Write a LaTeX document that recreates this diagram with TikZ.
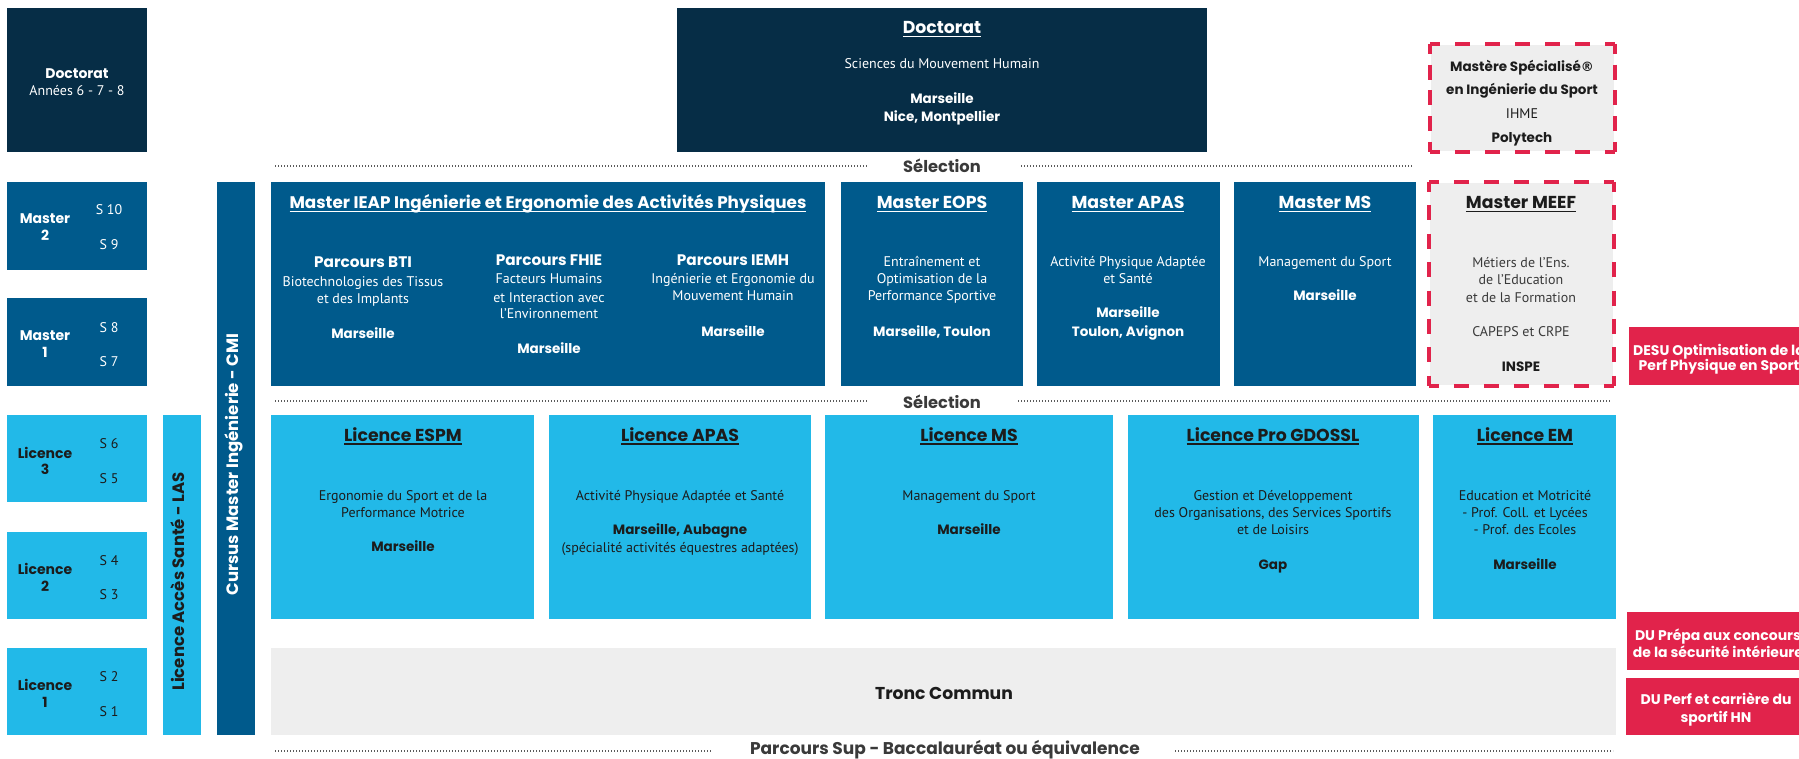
\documentclass[tikz,border=0pt]{standalone}
\usepackage{fontspec}
\setmainfont{PT Sans}
\newfontfamily\pop{Poppins}
\newfontfamily\djv{DejaVu Sans}
\definecolor{navy}{RGB}{6,45,70}
\definecolor{mblue}{RGB}{0,90,140}
\definecolor{lblue}{RGB}{34,185,232}
\definecolor{rred}{RGB}{225,35,75}
\definecolor{lgray}{RGB}{238,238,238}
\definecolor{dtext}{RGB}{28,28,28}
\definecolor{gtext}{RGB}{58,58,58}
\definecolor{dotc}{RGB}{90,90,90}
\newsavebox\ulbox
\newcommand\ul[1]{\sbox\ulbox{#1}\rlap{\rule[-3.5pt]{\wd\ulbox}{1.3pt}}\usebox\ulbox}
\tikzset{
  lbl/.style={inner sep=0pt, outer sep=0pt, anchor=mid, yshift=-3.5pt},
  rg/.style={lbl, font=\fontsize{#1}{17}\selectfont},
  rg/.default=14,
  bd/.style={lbl, font=\pop\bfseries\fontsize{#1}{17}\selectfont},
  bd/.default=13.5,
  wt/.style={text=white},
  dk/.style={text=dtext},
  gy/.style={text=gtext},
  dotline/.style={draw=dotc, line width=1.6pt, dash pattern=on 1pt off 2pt},
  redd/.style={draw=rred, line width=3.5pt},
}
\begin{document}
\begin{tikzpicture}[x=1pt,y=-1pt]
\useasboundingbox (0,0) rectangle (1799,759);
\fill[white] (0,0) rectangle (1799,759);
\clip (0,0) rectangle (1799,759);

% ---------- left column ----------
\fill[navy]  (7,8) rectangle (147,152);
\fill[mblue] (7,182) rectangle (147,270);
\fill[mblue] (7,298) rectangle (147,386);
\fill[lblue] (7,415) rectangle (147,502);
\fill[lblue] (7,532) rectangle (147,619);
\fill[lblue] (7,648) rectangle (147,735);

\node[bd=14,wt] (ld1) at (77,73) {Doctorat};
\node[rg,wt] (ld2) at (77,90) {Années 6 - 7 - 8};

\node[bd=14,wt] (m2a) at (45,218) {Master};
\node[bd=14,wt] (m2b) at (45,235) {2};
\node[rg,wt] (s10) at (109,209) {S 10};
\node[rg,wt] (s9) at (109,244) {S 9};

\node[bd=14,wt] (m1a) at (45,334) {Master};
\node[bd=14,wt] (m1b) at (45,351) {1};
\node[rg,wt] (s8) at (109,326) {S 8};
\node[rg,wt] (s7) at (109,360) {S 7};

\node[bd=14,dk] (l3a) at (45,452) {Licence};
\node[bd=14,dk] (l3b) at (45,468) {3};
\node[rg,dk] (s6) at (109,442) {S 6};
\node[rg,dk] (s5) at (109,477) {S 5};

\node[bd=14,dk] (l2a) at (45,568) {Licence};
\node[bd=14,dk] (l2b) at (45,585) {2};
\node[rg,dk] (s4) at (109,559) {S 4};
\node[rg,dk] (s3) at (109,593) {S 3};

\node[bd=14,dk] (l1a) at (45,684) {Licence};
\node[bd=14,dk] (l1b) at (45,701) {1};
\node[rg,dk] (s2) at (109,675) {S 2};
\node[rg,dk] (s1) at (109,710) {S 1};

% ---------- vertical bars ----------
\fill[lblue] (163,415) rectangle (201,735);
\fill[mblue] (217,182) rectangle (255,735);
\node[bd=16.5,dk,rotate=90,yshift=0pt,xshift=-3pt] (las) at (182,575) {Licence Accès Santé - LAS};
\node[bd=16.5,wt,rotate=90,yshift=0pt,xshift=-3pt] (cmi) at (236,458) {Cursus Master Ingénierie - CMI};

% ---------- doctorat ----------
\fill[navy] (677,8) rectangle (1207,152);
\node[bd=17.3,wt] (doc1) at (942,28) {\ul{Doctorat}};
\node[rg,wt] (doc2) at (942,63) {Sciences du Mouvement Humain};
\node[bd,wt] (doc3) at (942,98) {Marseille};
\node[bd,wt] (doc4) at (942,116) {Nice, Montpellier};

% ---------- Mastere specialise ----------
\fill[lgray] (1431,45) rectangle (1614,151);
\draw[redd, dash pattern=on 15pt off 15pt, dash phase=5pt] (1430,44) -- (1615,44);
\draw[redd, dash pattern=on 15pt off 15pt, dash phase=5pt] (1430,152) -- (1615,152);
\draw[redd, dash pattern=on 15pt off 10.75pt, dash phase=5pt] (1430,44) -- (1430,152);
\draw[redd, dash pattern=on 15pt off 10.75pt, dash phase=5pt] (1615,44) -- (1615,152);
\node[bd,dk] (msp1) at (1522,66) {Mastère Spécialisé{\djv\fontsize{13}{15}\selectfont ®}};
\node[bd,dk] (msp2) at (1522,89) {en Ingénierie du Sport};
\node[rg,dk] (msp3) at (1522,113) {IHME};
\node[bd,dk] (msp4) at (1522,137) {Polytech};

% ---------- selection lines ----------
\draw[dotline] (275,166) -- (867,166);
\draw[dotline] (1021,166) -- (1412,166);
\node[bd=16.3,gy] (sel1) at (942,167) {Sélection};
\draw[dotline] (275,401) -- (867,401);
\draw[dotline] (1018,401) -- (1610,401);
\node[bd=16.3,gy] (sel2) at (942,402) {Sélection};
\draw[dotline] (275,751) -- (712,751);
\draw[dotline] (1175,751) -- (1613,751);
\node[bd=17,gy] (psup) at (945,748.5) {Parcours Sup - Baccalauréat ou équivalence};

% ---------- masters ----------
\fill[mblue] (271,182) rectangle (825,386);
\fill[mblue] (841,182) rectangle (1023,386);
\fill[mblue] (1037,182) rectangle (1220,386);
\fill[mblue] (1234,182) rectangle (1416,386);

\node[bd=16.8,wt] (ieap) at (548,203) {\ul{Master IEAP Ingénierie et Ergonomie des Activités Physiques}};
\node[bd=15.3,wt] (bti1) at (363,262) {Parcours BTI};
\node[rg,wt] (bti2) at (363,281) {Biotechnologies des Tissus};
\node[rg,wt] (bti3) at (363,298) {et des Implants};
\node[bd,wt] (bti4) at (363,332) {Marseille};

\node[bd=15.3,wt] (fh1) at (549,260) {Parcours FHIE};
\node[rg,wt] (fh2) at (549,278) {Facteurs Humains};
\node[rg,wt] (fh3) at (549,296) {et Interaction avec};
\node[rg,wt] (fh4) at (549,313) {l'Environnement};
\node[bd,wt] (fh5) at (549,347) {Marseille};

\node[bd=15.3,wt] (ie1) at (733,260) {Parcours IEMH};
\node[rg,wt] (ie2) at (733,278) {Ingénierie et Ergonomie du};
\node[rg,wt] (ie3) at (733,295) {Mouvement Humain};
\node[bd,wt] (ie4) at (733,330) {Marseille};

\node[bd=17.3,wt] (eo1) at (932,203) {\ul{Master EOPS}};
\node[rg,wt] (eo2) at (932,261) {Entraînement et};
\node[rg,wt] (eo3) at (932,278) {Optimisation de la};
\node[rg,wt] (eo4) at (932,295) {Performance Sportive};
\node[bd,wt] (eo5) at (932,330) {Marseille, Toulon};

\node[bd=17.3,wt] (ap1) at (1128,203) {\ul{Master APAS}};
\node[rg,wt] (ap2) at (1128,261) {Activité Physique Adaptée};
\node[rg,wt] (ap3) at (1128,278) {et Santé};
\node[bd,wt] (ap4) at (1128,312) {Marseille};
\node[bd,wt] (ap5) at (1128,330) {Toulon, Avignon};

\node[bd=17.3,wt] (ms1) at (1325,203) {\ul{Master MS}};
\node[rg,wt] (ms2) at (1325,261) {Management du Sport};
\node[bd,wt] (ms3) at (1325,295) {Marseille};

% ---------- MEEF ----------
\fill[lgray] (1430,183) rectangle (1613,385);
\draw[redd, dash pattern=on 15pt off 15pt, dash phase=5pt] (1429,182) -- (1614,182);
\draw[redd, dash pattern=on 15pt off 15pt, dash phase=5pt] (1429,386) -- (1614,386);
\draw[redd, dash pattern=on 15pt off 13.4pt, dash phase=5pt] (1429,182) -- (1429,386);
\draw[redd, dash pattern=on 15pt off 13.4pt, dash phase=5pt] (1614,182) -- (1614,386);
\node[bd=17.3,dk] (me1) at (1521,203) {\ul{Master MEEF}};
\node[rg,gy] (me2) at (1521,262) {Métiers de l'Ens.};
\node[rg,gy] (me3) at (1521,279) {de l'Education};
\node[rg,gy] (me4) at (1521,296) {et de la Formation};
\node[rg,gy] (me5) at (1521,331) {CAPEPS et CRPE};
\node[bd,dk] (me6) at (1521,365) {INSPE};

% ---------- licences ----------
\fill[lblue] (271,415) rectangle (534,619);
\fill[lblue] (549,415) rectangle (811,619);
\fill[lblue] (825,415) rectangle (1113,619);
\fill[lblue] (1128,415) rectangle (1419,619);
\fill[lblue] (1433,415) rectangle (1616,619);

\node[bd=17.3,dk] (le1) at (403,435) {\ul{Licence ESPM}};
\node[rg,dk] (le2) at (403,494) {Ergonomie du Sport et de la};
\node[rg,dk] (le3) at (403,511) {Performance Motrice};
\node[bd,dk] (le4) at (403,545) {Marseille};

\node[bd=17.3,dk] (la1) at (680,435) {\ul{Licence APAS}};
\node[rg,dk] (la2) at (680,494) {Activité Physique Adaptée et Santé};
\node[bd,dk] (la3) at (680,528) {Marseille, Aubagne};
\node[rg,dk] (la4) at (680,546) {(spécialité activités équestres adaptées)};

\node[bd=17.3,dk] (lm1) at (969,435) {\ul{Licence MS}};
\node[rg,dk] (lm2) at (969,494) {Management du Sport};
\node[bd,dk] (lm3) at (969,528) {Marseille};

\node[bd=17.3,dk] (lg1) at (1273,435) {\ul{Licence Pro GDOSSL}};
\node[rg,dk] (lg2) at (1273,494) {Gestion et Développement};
\node[rg,dk] (lg3) at (1273,511) {des Organisations, des Services Sportifs};
\node[rg,dk] (lg4) at (1273,528) {et de Loisirs};
\node[bd,dk] (lg5) at (1273,563) {Gap};

\node[bd=17.3,dk] (lx1) at (1525,435) {\ul{Licence EM}};
\node[rg,dk] (lx2) at (1525,494) {Education et Motricité};
\node[rg,dk] (lx3) at (1525,511) {- Prof. Coll. et Lycées};
\node[rg,dk] (lx4) at (1525,528) {- Prof. des Ecoles};
\node[bd,dk] (lx5) at (1525,563) {Marseille};

% ---------- tronc commun ----------
\fill[lgray] (271,648) rectangle (1616,735);
\node[bd=17.2,dk] (tc) at (944,693) {Tronc Commun};

% ---------- red boxes ----------
\fill[rred] (1629,327) rectangle (1815,385);
\node[bd=14,wt] (de1) at (1719,349) {DESU Optimisation de la};
\node[bd=14,wt] (de2) at (1719,364) {Perf Physique en Sport};
\fill[rred] (1627,612) rectangle (1815,670);
\node[bd=14,wt] (dp1) at (1718,634) {DU Prépa aux concours};
\node[bd=14,wt] (dp2) at (1718,651) {de la sécurité intérieure};
\fill[rred] (1626,678) rectangle (1815,735);
\node[bd=14,wt] (dh1) at (1716,698) {DU Perf et carrière du};
\node[bd=14,wt] (dh2) at (1716,716) {sportif HN};
\end{tikzpicture}
\end{document}
